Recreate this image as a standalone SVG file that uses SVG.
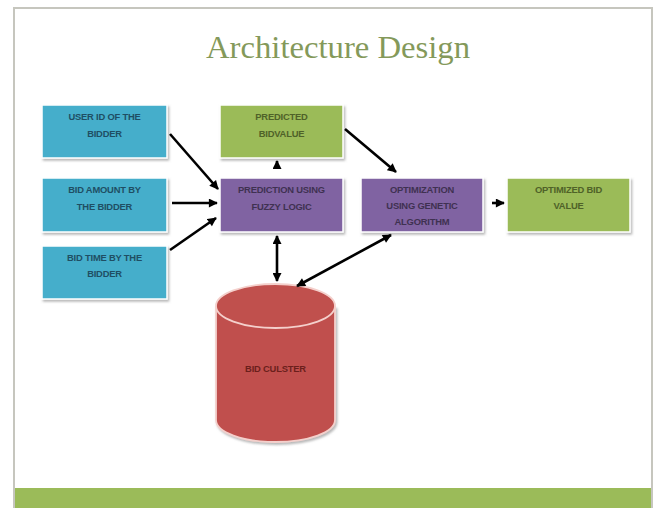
<svg xmlns="http://www.w3.org/2000/svg" width="658" height="508" viewBox="0 0 658 508">
<defs>
<style>
.t{font-family:"Liberation Sans","DejaVu Sans",sans-serif;font-weight:bold;font-size:9.4px;text-anchor:middle;letter-spacing:-0.2px}
.box{stroke:#ffffff;stroke-width:1.5;filter:url(#sh)}
.blue{fill:#45aecb}
.green{fill:#9bbb59}
.purple{fill:#8064a2}
.tb{fill:#1f4e64}
.tg{fill:#4f6228}
.tp{fill:#3f3151}
.c{stroke:#000;stroke-width:2.6;fill:none}
</style>
<filter id="sh" x="-10%" y="-10%" width="125%" height="130%">
<feDropShadow dx="1.5" dy="2" stdDeviation="1.2" flood-color="#808080" flood-opacity="0.55"/>
</filter>
<marker id="ah" viewBox="0 0 10 10" refX="9" refY="5" markerWidth="10" markerHeight="9" markerUnits="userSpaceOnUse" orient="auto-start-reverse">
<path d="M0,0 L10,5 L0,10 z" fill="#000"/>
</marker>
</defs>
<rect x="0" y="0" width="658" height="508" fill="#ffffff"/>
<rect x="14" y="8" width="638" height="510" fill="#ffffff" stroke="#c6c6be" stroke-width="2"/>
<rect x="15" y="488" width="636" height="20" fill="#9bbb59"/>
<text x="338" y="58" font-family="'Liberation Serif','DejaVu Serif',serif" font-size="32" fill="#84995a" text-anchor="middle" textLength="264" lengthAdjust="spacingAndGlyphs">Architecture Design</text>

<g id="user-id">
<rect class="box blue" x="42" y="105" width="125" height="53"/>
<text class="t tb" x="104.5" y="120">USER ID OF THE</text>
<text class="t tb" x="104.5" y="137">BIDDER</text>
</g>
<g id="bid-amount">
<rect class="box blue" x="42" y="178" width="125" height="54"/>
<text class="t tb" x="104.5" y="193">BID AMOUNT BY</text>
<text class="t tb" x="104.5" y="210">THE BIDDER</text>
</g>
<g id="bid-time">
<rect class="box blue" x="42" y="246" width="125" height="53"/>
<text class="t tb" x="104.5" y="261">BID TIME BY THE</text>
<text class="t tb" x="104.5" y="277">BIDDER</text>
</g>
<g id="predicted">
<rect class="box green" x="220" y="105" width="123" height="53"/>
<text class="t tg" x="281.5" y="120">PREDICTED</text>
<text class="t tg" x="281.5" y="137">BIDVALUE</text>
</g>
<g id="prediction">
<rect class="box purple" x="220" y="178" width="123" height="54"/>
<text class="t tp" x="281.5" y="193">PREDICTION USING</text>
<text class="t tp" x="281.5" y="210">FUZZY LOGIC</text>
</g>
<g id="optimization">
<rect class="box purple" x="361" y="178" width="122" height="54"/>
<text class="t tp" x="422" y="193">OPTIMIZATION</text>
<text class="t tp" x="422" y="209">USING GENETIC</text>
<text class="t tp" x="422" y="225">ALGORITHM</text>
</g>
<g id="optimized">
<rect class="box green" x="507" y="178" width="123" height="54"/>
<text class="t tg" x="568.5" y="193">OPTIMIZED BID</text>
<text class="t tg" x="568.5" y="209">VALUE</text>
</g>
<g id="bid-cluster">
<path d="M216,306 L216,420 A59.5,22 0 0 0 335,420 L335,306" fill="#c0504d" stroke="#f4d0cc" stroke-width="1.8" filter="url(#sh)"/>
<ellipse cx="275.5" cy="306" rx="59.5" ry="22" fill="#c0504d" stroke="#f4d0cc" stroke-width="1.8"/>
<text class="t" x="275.5" y="372" fill="#6b1f1c">BID CULSTER</text>
</g>

<g id="connectors">
<path class="c" d="M170,134 L218,189" marker-end="url(#ah)"/>
<path class="c" d="M172,203 L217,203" marker-end="url(#ah)"/>
<path class="c" d="M170,250 L216,218" marker-end="url(#ah)"/>
<path class="c" d="M277,169 L277,161" marker-end="url(#ah)" stroke-width="0.1"/>
<path class="c" d="M345,129 L396,172" marker-end="url(#ah)"/>
<path class="c" d="M492,203 L504,203" marker-end="url(#ah)"/>
<path class="c" d="M277,236 L277,281" marker-start="url(#ah)" marker-end="url(#ah)"/>
<path class="c" d="M297,286 L391,235" marker-start="url(#ah)" marker-end="url(#ah)"/>
</g>
</svg>
